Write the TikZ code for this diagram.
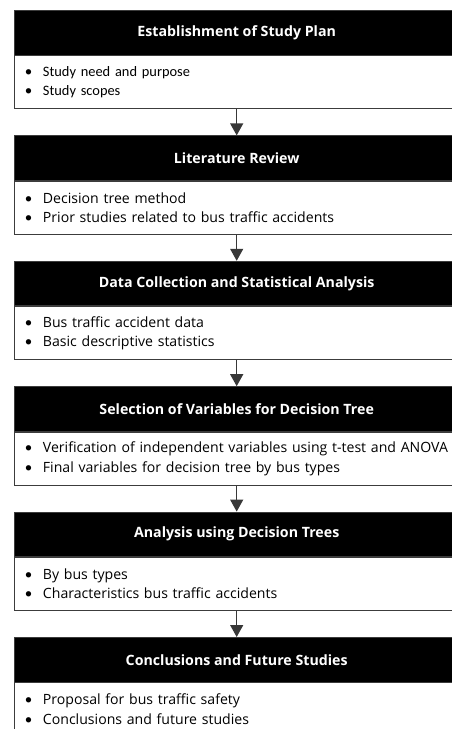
\documentclass[tikz,border=0pt]{standalone}
\usepackage{fontspec}
\setmainfont{Open Sans}
\newfontfamily\calibfont{Carlito}
\usetikzlibrary{arrows.meta}
\definecolor{framegray}{HTML}{3C3C3C}
\definecolor{arrowgray}{HTML}{383838}
\newcommand{\bitem}[1]{\hspace*{11pt}\makebox[18pt][l]{{\calibfont\fontsize{15}{15}\selectfont •}}#1}
\newcommand{\tightwords}{\spaceskip=0.18em plus 0.05em minus 0.02em\relax}
\begin{document}
\begin{tikzpicture}[x=1pt,y=-1pt,
  head/.style={draw=framegray, line width=0.9pt, fill=black, text=white,
    font=\bfseries\fontsize{14.2}{16}\selectfont,
    minimum width=445.5pt, minimum height=44.5pt, inner sep=0pt, anchor=north west},
  body/.style={draw=framegray, line width=0.9pt, fill=white,
    minimum width=445.5pt, minimum height=53pt, text width=445.5pt,
    inner xsep=0pt, inner ysep=0pt, align=left, anchor=north west,
    font=\fontsize{14.1}{19.5}\selectfont\tightwords},
  flow/.style={draw=arrowgray, line width=1.2pt,
    -{Triangle[width=13pt,length=12pt]}}]
\useasboundingbox (0,0) rectangle (452,729);
\clip (0,0) rectangle (452,729);

% step 1
\node[head] (h1) at (13.5,10) {Establishment of Study Plan};
\node[body, font=\calibfont\fontsize{14.4}{19.5}\selectfont] (b1) at (h1.south west)
  {\bitem{Study need and purpose}\\\bitem{Study scopes}};

% step 2
\node[head] (h2) at (13.5,135.4) {Literature Review};
\node[body] (b2) at (h2.south west)
  {\bitem{Decision tree method}\\\bitem{Prior studies related to bus traffic accidents}};

% step 3
\node[head] (h3) at (13.5,260.8) {Data Collection and Statistical Analysis};
\node[body] (b3) at (h3.south west)
  {\bitem{Bus traffic accident data}\\\bitem{Basic descriptive statistics}};

% step 4
\node[head] (h4) at (13.5,386.2) {Selection of Variables for Decision Tree};
\node[body] (b4) at (h4.south west)
  {\bitem{Verification of independent variables using t-test and ANOVA}\\\bitem{Final variables for decision tree by bus types}};

% step 5
\node[head] (h5) at (13.5,511.6) {Analysis using Decision Trees};
\node[body] (b5) at (h5.south west)
  {\bitem{By bus types}\\\bitem{Characteristics bus traffic accidents}};

% step 6
\node[head] (h6) at (13.5,637) {Conclusions and Future Studies};
\node[body] (b6) at (h6.south west)
  {\bitem{Proposal for bus traffic safety}\\\bitem{Conclusions and future studies}};

% connectors between the steps
\draw[flow] (b1.south) -- (h2.north);
\draw[flow] (b2.south) -- (h3.north);
\draw[flow] (b3.south) -- (h4.north);
\draw[flow] (b4.south) -- (h5.north);
\draw[flow] (b5.south) -- (h6.north);
\end{tikzpicture}
\end{document}
